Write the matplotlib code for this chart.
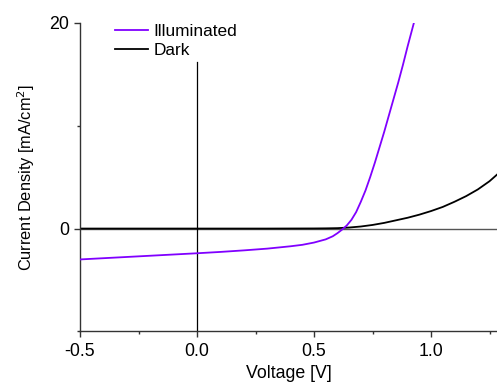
import matplotlib
matplotlib.use("Agg")
import matplotlib.pyplot as plt
from matplotlib.ticker import MultipleLocator

plt.rcParams['font.family'] = ['Liberation Sans', 'DejaVu Sans']

# Illuminated J-V curve
v_light = [-0.5, -0.4, -0.3, -0.2, -0.1, 0.0, 0.1, 0.2, 0.3, 0.4, 0.45, 0.5,
           0.55, 0.58, 0.6, 0.62, 0.64, 0.66, 0.68, 0.70, 0.72, 0.74, 0.76,
           0.78, 0.80, 0.82, 0.84, 0.86, 0.88, 0.90, 0.927]
j_light = [-3.0, -2.88, -2.76, -2.64, -2.52, -2.4, -2.27, -2.12, -1.95, -1.72,
           -1.58, -1.36, -1.05, -0.75, -0.45, -0.1, 0.3, 0.85, 1.6, 2.6, 3.7,
           5.0, 6.4, 7.9, 9.4, 11.0, 12.6, 14.2, 15.9, 17.7, 20.0]

# Dark J-V curve
v_dark = [-0.5, -0.3, -0.1, 0.1, 0.3, 0.5, 0.55, 0.6, 0.65, 0.7, 0.75, 0.8,
          0.85, 0.9, 0.95, 1.0, 1.05, 1.1, 1.15, 1.2, 1.25, 1.3]
j_dark = [0.0, 0.0, 0.0, 0.0, 0.0, 0.01, 0.02, 0.04, 0.1, 0.2, 0.35, 0.55,
          0.8, 1.05, 1.35, 1.7, 2.1, 2.6, 3.15, 3.8, 4.6, 5.6]

fig = plt.figure(figsize=(4.97, 3.85), dpi=100)
ax = fig.add_axes([0.161, 0.139, 0.839, 0.802])

ax.axhline(0, color='#555555', lw=1, zorder=1)
ax.plot([0, 0], [-10, 16.2], color='black', lw=0.9, zorder=1)

ax.plot(v_light, j_light, color='#8000ff', lw=1.3, label='Illuminated', zorder=3)
ax.plot(v_dark, j_dark, color='black', lw=1.3, label='Dark', zorder=2)

ax.set_xlim(-0.5, 1.282)
ax.set_ylim(-10, 20)
ax.xaxis.set_major_locator(MultipleLocator(0.5))
ax.xaxis.set_minor_locator(MultipleLocator(0.25))
ax.yaxis.set_major_locator(MultipleLocator(20))
ax.yaxis.set_minor_locator(MultipleLocator(10))
ax.set_xticks([-0.5, 0.0, 0.5, 1.0])
ax.set_xticklabels(['-0.5', '0.0', '0.5', '1.0'])

for s in ['top', 'right']:
    ax.spines[s].set_visible(False)
for s in ['left', 'bottom']:
    ax.spines[s].set_color('#333333')
    ax.spines[s].set_linewidth(1)

ax.tick_params(which='major', direction='out', length=4, width=1,
               labelsize=12.8, color='#333333', pad=4)
ax.tick_params(which='minor', direction='out', length=2.5, width=1,
               color='#333333')

ax.set_xlabel('Voltage [V]', fontsize=12.8, labelpad=4)
ax.set_ylabel('Current Density [mA/cm$^2$]', fontsize=11.8, labelpad=9)

ax.legend(loc='upper left', bbox_to_anchor=(0.067, 1.018), frameon=False,
          fontsize=12.4, handlelength=1.95, handletextpad=0.3, labelspacing=0.22,
          borderaxespad=0)

fig.savefig('out.png', dpi=100)
